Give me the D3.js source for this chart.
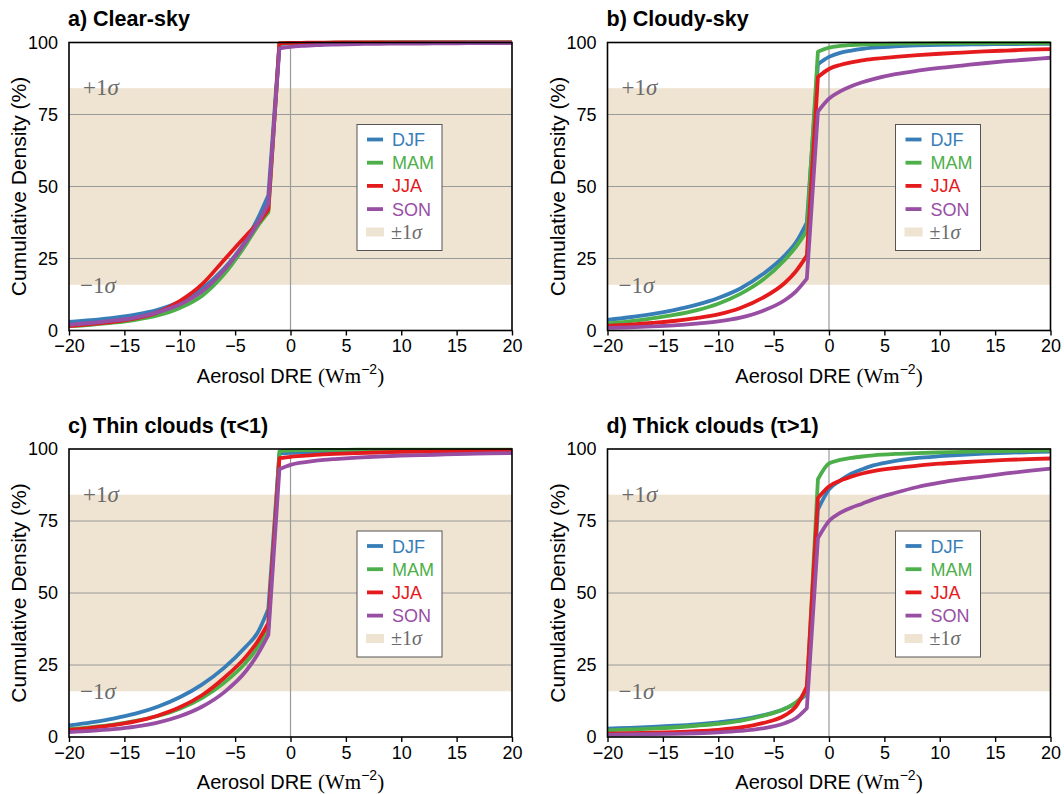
<!DOCTYPE html>
<html>
	<head>
		<meta charset="utf-8">
		<title>Aerosol DRE cumulative density</title>
		<style>
			body { margin: 0; background: #fff; }
			text { font-family: "Liberation Sans", Arial, Helvetica, sans-serif; }
			.grid { stroke: #9a9a9a; stroke-width: 1px; }
			.zero { stroke: #9a9a9a; stroke-width: 1.2px; }
			.frame { fill: none; stroke: #000; stroke-width: 1.6px; }
			.curve { fill: none; stroke-width: 3.8px; stroke-linejoin: round; }
			.serif { font-family: "Liberation Serif", "Times New Roman", serif; }
			.axis path { display: none; }
			.axis line { stroke: #000; stroke-width: 1.4px; }
			.axis text { font-size: 18px; fill: #000; }
		</style>
	</head>
	<body>
		<svg class="chart"></svg>
		<script src="https://d3js.org/d3.v7.min.js"></script>
		<script>
			// x positions of the cumulative curves (Wm-2)
			var dre = [-20,-18,-16,-14,-12,-10,-8,-6,-4,-3,-2,-1,0,1,2,3,4,6,8,10,12,14,16,18,20];

			var seasons = ["DJF", "MAM", "JJA", "SON"];
			var colors = ["#377eb8", "#4daf4a", "#e41a1c", "#984ea3"];
			var titles = ["a) Clear-sky", "b) Cloudy-sky", "c) Thin clouds (\u03c4<1)", "d) Thick clouds (\u03c4>1)"];
			var xTicks = [-20, -15, -10, -5, 0, 5, 10, 15, 20];
			var yTicks = [0, 25, 50, 75, 100];
			var sigmaBand = [15.87, 84.13];

			// a) clear-sky
			var clearDJF = [3,3.6,4.4,5.5,7.2,10,14.5,21.5,31.5,38.5,47,99.5,99.7,99.8,99.85,99.9,99.9,99.95,99.95,100,100,100,100,100,100];
			var clearMAM = [1.5,2,2.7,3.7,5.2,7.8,12,19.5,30,36,41,99.6,99.8,99.85,99.9,99.9,99.95,99.95,100,100,100,100,100,100,100];
			var clearJJA = [1.5,2.2,3,4.2,6.3,10.2,16,24.5,33,37,42,99.8,99.9,99.9,99.95,99.95,100,100,100,100,100,100,100,100,100];
			var clearSON = [2,2.6,3.4,4.5,6.3,9,13.5,21,31,37,44,98,98.5,98.8,99,99.2,99.3,99.45,99.55,99.6,99.65,99.7,99.75,99.8,99.8];
			// b) cloudy-sky
			var cloudyDJF = [3.7,4.6,5.7,7.1,8.9,11.3,14.6,19.5,26,30.5,37.5,92.5,95,96.4,97.2,97.8,98.2,98.7,99,99.2,99.3,99.4,99.45,99.5,99.5];
			var cloudyMAM = [2.5,3.2,4.2,5.4,7,9.3,12.7,17.5,24.5,29,34.5,96.8,98.2,98.8,99.1,99.3,99.4,99.6,99.7,99.75,99.8,99.8,99.8,99.8,99.8];
			var cloudyJJA = [1.6,2,2.6,3.3,4.3,5.6,7.8,11.3,16.5,20.5,26,88,90.8,92.2,93.1,93.8,94.3,95,95.6,96.1,96.5,96.9,97.2,97.5,97.7];
			var cloudySON = [0.9,1.1,1.4,1.8,2.4,3.2,4.5,6.8,10.5,13.5,18,76,80.5,83,84.8,86.2,87.3,89,90.2,91.2,92,92.8,93.5,94.1,94.7];
			// c) thin clouds
			var thinDJF = [4,5.1,6.4,8.1,10.5,13.8,18.2,24,31.5,36,44.5,98.5,98.7,98.8,98.9,98.95,99,99.1,99.15,99.2,99.2,99.25,99.25,99.3,99.3];
			var thinMAM = [2.7,3.4,4.3,5.6,7.3,9.8,13.5,18.8,26,31,38,99.2,99.5,99.6,99.65,99.7,99.7,99.75,99.75,99.8,99.8,99.8,99.8,99.8,99.8];
			var thinJJA = [2.5,3.2,4.1,5.4,7.4,10.3,14.5,20.5,28,33,39.5,96.8,97.3,97.6,97.9,98.1,98.3,98.6,98.8,99,99.1,99.2,99.3,99.4,99.5];
			var thinSON = [1.7,2.1,2.7,3.6,5,7.2,10.5,15.5,23,28.5,35.5,93,94.5,95.3,95.8,96.2,96.5,97,97.4,97.7,97.9,98.1,98.3,98.5,98.6];
			// d) thick clouds
			var thickDJF = [2.9,3.2,3.5,3.9,4.4,5.1,6,7.5,9.8,11.8,15,79,86,89,91.4,93,94.3,95.9,96.9,97.5,98,98.4,98.7,98.9,99.1];
			var thickMAM = [2.3,2.6,2.9,3.3,3.9,4.6,5.6,7.3,9.8,12,15.5,89.5,95,96.2,96.9,97.4,97.8,98.3,98.6,98.8,99,99.2,99.3,99.4,99.5];
			var thickJJA = [1.2,1.3,1.5,1.7,2,2.5,3.3,4.8,7.5,10.5,17.5,83,87,89,90.4,91.5,92.3,93.4,94.2,94.9,95.4,95.8,96.2,96.5,96.7];
			var thickSON = [0.8,0.9,1,1.1,1.3,1.6,2.1,3,4.8,6.5,10,69,75,77.8,79.6,81,82.5,84.8,86.8,88.3,89.5,90.5,91.5,92.4,93.2];

			var panelSeries = [
				[clearDJF, clearMAM, clearJJA, clearSON],
				[cloudyDJF, cloudyMAM, cloudyJJA, cloudySON],
				[thinDJF, thinMAM, thinJJA, thinSON],
				[thickDJF, thickMAM, thickJJA, thickSON]
			];

			var lefts = [69, 607.5], tops = [42.5, 449],
				width = 443, height = 288;
			var bandColor = "#efe4d2", sigmaGray = "#6b6b6b";

			var svg = d3.select(".chart")
				.attr("width", 1064)
				.attr("height", 794);

			var x = d3.scaleLinear().domain([-20, 20]).range([0, width]);
			var y = d3.scaleLinear().domain([0, 100]).range([height, 0]);
			var line = d3.line()
				.x(function(d) { return x(d[0]); })
				.y(function(d) { return y(d[1]); })
				.curve(d3.curveMonotoneX);
			var fmt = function(d) { return d < 0 ? "\u2212" + Math.abs(d) : d; };

			// smooth tails on either side, straight jump between -2 and -1
			var jump = dre.indexOf(-2);
			function curvePath(vals) {
				var pts = dre.map(function(v, k) { return [v, vals[k]]; });
				var left = line(pts.slice(0, jump + 1));
				var right = line(pts.slice(jump + 1));
				return left + "L" + right.slice(1);
			}

			panelSeries.forEach(function(series, i) {
				var g = svg.append("g")
					.attr("transform", "translate(" + lefts[i % 2] + "," + tops[Math.floor(i / 2)] + ")");

				// +/- 1 sigma band
				g.append("rect")
					.attr("x", 0).attr("width", width)
					.attr("y", y(sigmaBand[1]))
					.attr("height", y(sigmaBand[0]) - y(sigmaBand[1]))
					.attr("fill", bandColor);

				g.selectAll("line.grid")
					.data([25, 50, 75])
					.enter().append("line")
					.attr("class", "grid")
					.attr("x1", 0).attr("x2", width)
					.attr("y1", y).attr("y2", y);

				g.append("line")
					.attr("class", "zero")
					.attr("x1", x(0)).attr("x2", x(0))
					.attr("y1", 0).attr("y2", height);

				g.append("text").attr("class", "serif")
					.attr("x", 14).attr("y", y(sigmaBand[1]) + 7)
					.attr("font-size", 23).attr("fill", sigmaGray)
					.html("+1<tspan font-style='italic'>\u03c3</tspan>");
				g.append("text").attr("class", "serif")
					.attr("x", 11).attr("y", y(sigmaBand[0]) + 8)
					.attr("font-size", 23).attr("fill", sigmaGray)
					.html("\u22121<tspan font-style='italic'>\u03c3</tspan>");

				// curves
				g.selectAll("path.curve")
					.data(series)
					.enter().append("path")
					.attr("class", "curve")
					.attr("stroke", function(d, j) { return colors[j]; })
					.attr("d", curvePath);

				g.append("rect")
					.attr("class", "frame")
					.attr("width", width).attr("height", height);

				g.append("g")
					.attr("class", "axis")
					.attr("transform", "translate(0," + height + ")")
					.call(d3.axisBottom(x).tickValues(xTicks).tickSize(5).tickPadding(4).tickFormat(fmt));

				g.append("g")
					.attr("class", "axis")
					.call(d3.axisLeft(y).tickValues(yTicks).tickSize(0).tickPadding(11));

				// legend
				var lg = g.append("g").attr("transform", "translate(288,82)");
				lg.append("rect")
					.attr("width", 85).attr("height", 126)
					.attr("fill", "#fff").attr("stroke", "#555").attr("stroke-width", 1);
				seasons.forEach(function(s, j) {
					var ly = 15 + j * 23.2;
					lg.append("line")
						.attr("x1", 10).attr("x2", 26)
						.attr("y1", ly).attr("y2", ly)
						.attr("stroke", colors[j]).attr("stroke-width", 3.8);
					lg.append("text")
						.attr("x", 35).attr("y", ly + 6.5)
						.attr("font-size", 18).attr("fill", colors[j])
						.text(s);
				});
				lg.append("rect")
					.attr("x", 9).attr("y", 103)
					.attr("width", 18).attr("height", 9)
					.attr("fill", bandColor);
				lg.append("text").attr("class", "serif")
					.attr("x", 34).attr("y", 114)
					.attr("font-size", 20).attr("fill", sigmaGray)
					.html("\u00b11<tspan font-style='italic'>\u03c3</tspan>");

				// titles and axis labels
				g.append("text")
					.attr("x", -1).attr("y", -16.5)
					.attr("font-size", 21.5).attr("font-weight", "bold")
					.text(titles[i]);

				g.append("text")
					.attr("x", width / 2).attr("y", height + 52)
					.attr("text-anchor", "middle")
					.attr("font-size", 20)
					.html("Aerosol DRE <tspan class='serif' font-size='21'>(Wm</tspan><tspan font-size='14' dy='-9'>\u22122</tspan><tspan class='serif' font-size='21' dy='9'>)</tspan>");

				g.append("text")
					.attr("transform", "translate(-43," + height / 2 + ") rotate(-90)")
					.attr("text-anchor", "middle")
					.attr("font-size", 21)
					.text("Cumulative Density (%)");
			});
		</script>
	</body>
</html>
